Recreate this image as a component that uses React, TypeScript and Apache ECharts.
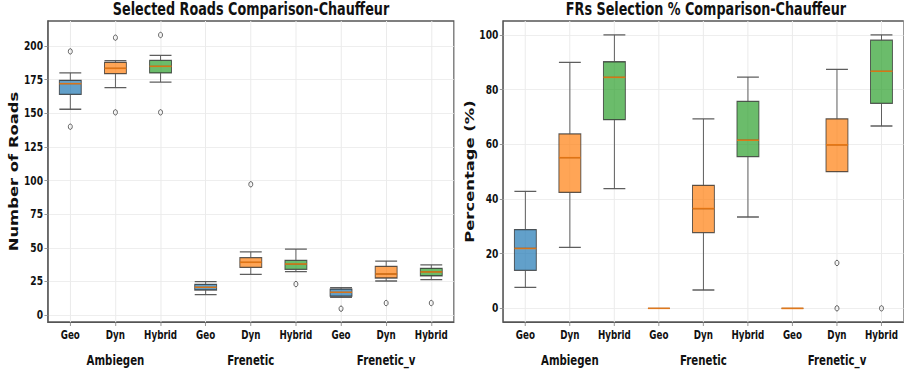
import React, { useEffect, useRef } from "react";
import * as echarts from "echarts";

// ---------- data ----------
const methods = ["Geo", "Dyn", "Hybrid", "Geo", "Dyn", "Hybrid", "Geo", "Dyn", "Hybrid"];
const generators = ["Ambiegen", "Frenetic", "Frenetic_v"];
const methodFill = ["rgba(31,119,180,0.7)", "rgba(255,127,14,0.7)", "rgba(44,160,44,0.7)"];
const medianColor = "#ff7f0e";

// [lower whisker, Q1, median, Q3, upper whisker]
const roadsBoxes = [
  [153, 164, 172, 174.5, 180],
  [169, 179.4, 183.4, 187.9, 189.1],
  [173.2, 180, 184.9, 189.3, 193.1],
  [15.1, 18.6, 20.6, 22.8, 24.8],
  [30.2, 35.4, 39.2, 42.6, 47],
  [32.2, 34, 37.9, 40.6, 49],
  [13.2, 14.1, 16.9, 19.3, 20.3],
  [25.3, 27.5, 30.5, 36.2, 40.1],
  [26.3, 29.2, 32, 34.7, 37.2],
];
const roadsOutliers = [
  [0, 196], [0, 140], [1, 206.2], [1, 150.7], [2, 208.2], [2, 150.7],
  [4, 97.2], [5, 23], [6, 4.7], [7, 8.9], [8, 8.9],
];
const frsBoxes = [
  [7.7, 13.9, 21.9, 28.8, 42.8],
  [22.3, 42.4, 55.1, 63.8, 90],
  [43.8, 69, 84.5, 90.2, 100],
  [0, 0, 0, 0, 0],
  [6.7, 27.7, 36.5, 45, 69.3],
  [33.4, 55.5, 61.5, 75.7, 84.6],
  [0, 0, 0, 0, 0],
  [50, 50, 59.8, 69.3, 87.4],
  [66.7, 75, 86.7, 98.1, 100],
];
const frsOutliers = [[7, 16.6], [7, 0], [8, 0]];
const roadsTicks = [0, 25, 50, 75, 100, 125, 150, 175, 200];
const frsTicks = [0, 20, 40, 60, 80, 100];

const titles = ["Selected Roads Comparison-Chauffeur", "FRs Selection % Comparison-Chauffeur"];
const yNames = ["Number of Roads", "Percentage (%)"];

// ---------- styling ----------
// the reference figure is horizontally compressed; render wider and squeeze with CSS
const S = 0.73;
const W = Math.round(904 / S);
const hx = (v: number) => v / S;

const font = '"DejaVu Sans", sans-serif';
const gridColor = "#ebebeb";
const spine = "#555";

function buildPanel(idx: number, boxes: number[][], outliers: number[][], yMin: number, yMax: number, ticks: number[]) {
  const xAxes = [
    {
      type: "category",
      gridIndex: idx,
      data: methods,
      boundaryGap: true,
      axisLine: { show: true, onZero: false, lineStyle: { color: spine, width: 1.2 } },
      axisTick: { show: true, alignWithLabel: true, length: 4, lineStyle: { color: "#888" } },
      axisLabel: { fontFamily: font, fontWeight: "bold", fontSize: 12, color: "#111", margin: 6.5, interval: 0 },
      splitLine: { show: false },
    },
    {
      type: "category",
      gridIndex: idx,
      data: generators,
      position: "bottom",
      offset: 25,
      axisLine: { show: false, onZero: false },
      axisTick: { show: false },
      axisLabel: { fontFamily: font, fontWeight: "bold", fontSize: 14, color: "#111", margin: 6, interval: 0 },
      splitLine: { show: false },
    },
  ];
  const yAxis = {
    type: "value",
    gridIndex: idx,
    min: yMin,
    max: yMax,
    name: yNames[idx],
    nameLocation: "middle",
    nameGap: 38,
    nameTextStyle: { fontFamily: font, fontWeight: "bold", fontSize: 16.4, color: "#111" },
    axisLine: { show: true, lineStyle: { color: spine, width: 1.5 } },
    axisTick: { show: true, length: 4.5, lineStyle: { color: "#888", width: 1 }, customValues: ticks },
    axisLabel: { fontFamily: font, fontWeight: "bold", fontSize: 12.5, color: "#111", margin: 6.5, customValues: ticks },
    splitLine: { show: true, lineStyle: { color: gridColor, width: 1 } },
  };
  const xi = idx * 2;
  const series = [
    {
      type: "scatter",
      xAxisIndex: xi,
      yAxisIndex: idx,
      data: [],
      silent: true,
      markLine: {
        silent: true,
        z: 0,
        symbol: "none",
        label: { show: false },
        lineStyle: { color: gridColor, width: 1.4, type: "solid" },
        data: methods.map((_, i) => ({ xAxis: i })),
      },
    },
    {
      type: "boxplot",
      xAxisIndex: xi,
      yAxisIndex: idx,
      boxWidth: [30, 30],
      z: 3,
      data: boxes.map((b, i) => ({
        value: b,
        itemStyle: { color: methodFill[i % 3], borderColor: "rgba(40,40,40,0.75)", borderWidth: 1.3 },
      })),
    },
    {
      type: "scatter",
      xAxisIndex: xi,
      yAxisIndex: idx,
      z: 4,
      symbol: "rect",
      symbolSize: [30, 1.6],
      itemStyle: { color: medianColor },
      data: boxes.map((b, i) => [i, b[2]]),
    },
    {
      type: "scatter",
      xAxisIndex: xi,
      yAxisIndex: idx,
      z: 4,
      symbol: "circle",
      symbolSize: 5.4,
      itemStyle: { color: "rgba(0,0,0,0)", borderColor: "#222", borderWidth: 1 },
      data: outliers,
    },
  ];
  return { xAxes, yAxis, series };
}

export default function App() {
  const ref = useRef<HTMLDivElement>(null);
  useEffect(() => {
    document.body.style.margin = "0";
    if (!ref.current) return;
    const chart = echarts.init(ref.current, null, { renderer: "svg" });
    const p0 = buildPanel(0, roadsBoxes, roadsOutliers, -5.2, 218.6, roadsTicks);
    const p1 = buildPanel(1, frsBoxes, frsOutliers, -5, 105.1, frsTicks);
    const titleStyle = { fontFamily: font, fontWeight: "bold", fontSize: 17.5, color: "#111" };
    chart.setOption({
      animation: false,
      backgroundColor: "#fff",
      title: [
        { text: titles[0], left: hx(251), top: 0.5, padding: 0, textAlign: "center", textStyle: titleStyle },
        { text: titles[1], left: hx(706), top: 0.5, padding: 0, textAlign: "center", textStyle: titleStyle },
      ],
      grid: [
        { left: hx(47.74), top: 21, width: hx(406.1), height: 301, show: true, borderColor: spine, borderWidth: 1.5, backgroundColor: "transparent" },
        { left: hx(503.1), top: 21, width: hx(406.1), height: 301, show: true, borderColor: spine, borderWidth: 1.5, backgroundColor: "transparent" },
      ],
      xAxis: [...p0.xAxes, ...p1.xAxes],
      yAxis: [p0.yAxis, p1.yAxis],
      series: [...p0.series, ...p1.series],
    });
    return () => chart.dispose();
  }, []);
  return (
    <div style={{ width: 904, height: 374, overflow: "hidden", position: "relative" }}>
      <div
        ref={ref}
        style={{ width: W, height: 374, transform: `scaleX(${S})`, transformOrigin: "0 0" }}
      />
    </div>
  );
}
